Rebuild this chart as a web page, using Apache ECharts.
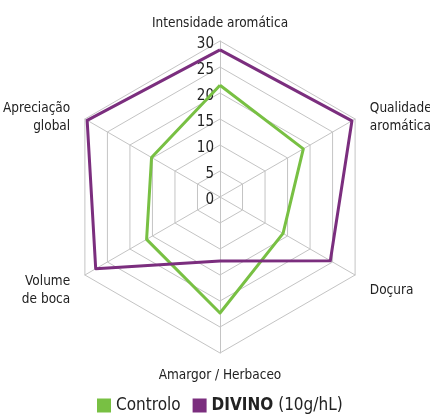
<!DOCTYPE html>
<html>
<head>
<meta charset="utf-8">
<script src="https://cdn.jsdelivr.net/npm/echarts@6/dist/echarts.min.js"></script>
<style>html,body{margin:0;padding:0;background:#fff}#c{width:430px;height:415px}</style>
</head>
<body>
<div id="c"></div>
<script>
// indicators listed counter-clockwise from the top (ECharts radar order)
const indicators = ['Intensidade aromática', 'Apreciação\nglobal', 'Volume\nde boca', 'Amargor / Herbaceo', 'Doçura', 'Qualidade\naromática'];
const controlo = [21.5, 15.2, 16.3, 22.3, 14, 18.5];
const divino = [28.3, 29.5, 27.6, 12.3, 24.5, 29.3];
const seriesNames = ['Controlo', 'DIVINO'];
const tickMax = 30;
const tickStep = 5;

const FONT = '"Liberation Sans Narrow", "DejaVu Sans Condensed", "Liberation Sans", sans-serif';
const chart = echarts.init(document.getElementById('c'), null, {renderer: 'canvas'});
const center = [220, 197];
const sideNameCenter = [220, 204];
const radius = 156;
const isVertical = i => i === 0 || i === 3;
const nameStyle = {color: '#222', fontFamily: FONT, fontSize: 13.5, lineHeight: 18};
chart.setOption({
  animation: false,
  backgroundColor: '#fff',
  textStyle: {fontFamily: FONT},
  legend: {
    top: 392,
    left: 92,
    itemWidth: 14,
    itemHeight: 14,
    itemGap: 12,
    itemTextGap: 4,
    icon: 'rect',
    data: seriesNames,
    textStyle: {fontFamily: FONT, fontSize: 17, color: '#222',
      rich: {b: {fontFamily: FONT, fontSize: 17, fontWeight: 'bold', color: '#222'}}},
    formatter: n => n === 'DIVINO' ? '{b|DIVINO} (10g/hL)' : n
  },
  radar: [{
    center: center,
    radius: radius,
    startAngle: 90,
    shape: 'polygon',
    splitNumber: tickMax / tickStep,
    nameGap: 9,
    axisName: Object.assign({padding: [4, 0, 0, 0]}, nameStyle),
    axisLine: {lineStyle: {color: '#c4c4c4', width: 1}},
    splitLine: {lineStyle: {color: '#c4c4c4', width: 1}},
    splitArea: {show: false},
    indicator: indicators.map((n, i) => ({name: isVertical(i) ? n : '', min: 0, max: tickMax}))
  }, {
    center: sideNameCenter,
    radius: radius,
    startAngle: 90,
    shape: 'polygon',
    splitNumber: tickMax / tickStep,
    nameGap: 17,
    axisName: nameStyle,
    axisLine: {show: false},
    splitLine: {show: false},
    splitArea: {show: false},
    indicator: indicators.map((n, i) => ({name: isVertical(i) ? '' : n, min: 0, max: tickMax}))
  }],
  polar: {center: center, radius: radius},
  angleAxis: {show: false, startAngle: 90, min: 0, max: 360},
  radiusAxis: {
    min: 0, max: tickMax, interval: tickStep,
    axisLine: {show: false}, axisTick: {show: false}, splitLine: {show: false},
    axisLabel: {color: '#222', fontFamily: FONT, fontSize: 15, margin: 6, verticalAlign: 'top', lineHeight: 6}
  },
  series: [{
    type: 'radar',
    radarIndex: 0,
    symbol: 'none',
    data: [
      {name: 'Controlo', value: controlo, lineStyle: {color: '#78c043', width: 3}, itemStyle: {color: '#78c043'}},
      {name: 'DIVINO', value: divino, lineStyle: {color: '#7b2e7e', width: 3}, itemStyle: {color: '#7b2e7e'}}
    ]
  }]
});
</script>
</body>
</html>
